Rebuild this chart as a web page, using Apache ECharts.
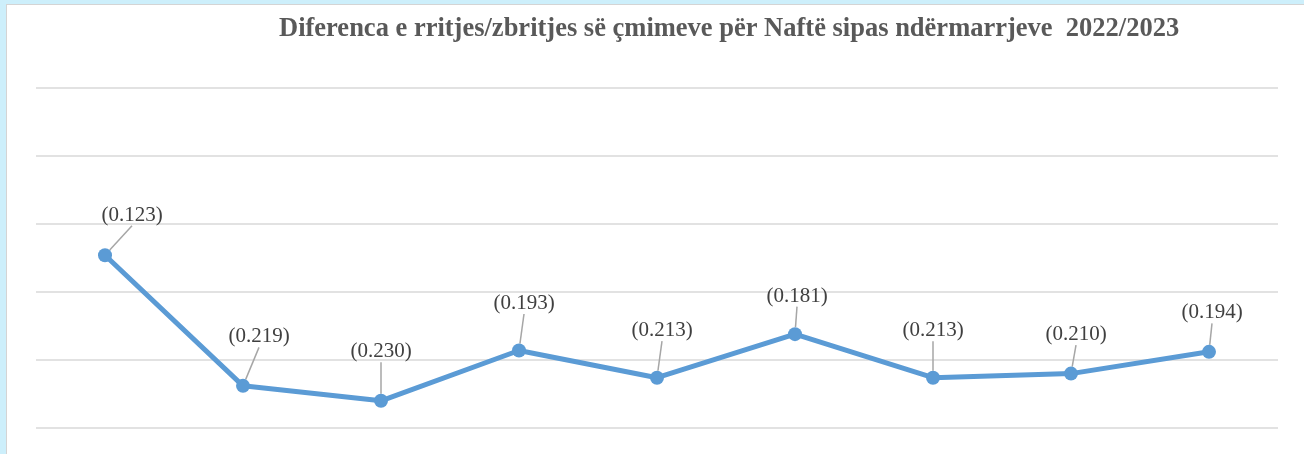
<!DOCTYPE html>
<html>
<head>
<meta charset="utf-8">
<script src="https://cdn.jsdelivr.net/npm/echarts@6/dist/echarts.min.js"></script>
<style>
  html, body {
    margin: 0;
    padding: 0;
    background: #cdeffb;
  }
  .sheet {
    position: absolute;
    left: 6px;
    top: 4px;
    right: 0;
    bottom: 0;
    background: #ffffff;
    border-left: 1px solid #d4d4d4;
    border-top: 1px solid #d4d4d4;
  }
  #myChart {
    position: absolute;
    left: 0;
    top: 0;
    width: 1304px;
    height: 454px;
  }
</style>
</head>
<body>
<div class="sheet"></div>
<div id="myChart"></div>
<script>
  // ndermarrjet (emrat nuk shfaqen ne grafik)
  const categories = ['1', '2', '3', '4', '5', '6', '7', '8', '9'];
  // diferenca e cmimeve
  const values = [-0.123, -0.219, -0.230, -0.193, -0.213, -0.181, -0.213, -0.210, -0.194];
  // zhvendosja e etiketave nga pika
  const labelDx = [27, 16, 0, 5, 5, 2, 0, 5, 3];
  const labelDy = [-40, -49, -49, -47, -47, -38, -47, -39, -39];

  let myChart = echarts.init(document.getElementById('myChart'));
  myChart.setOption({
    backgroundColor: 'transparent',
    animation: false,
    title: {
      text: 'Diferenca e rritjes/zbritjes së çmimeve për Naftë sipas ndërmarrjeve  2022/2023',
      left: 274,
      top: 11,
      textStyle: {
        fontFamily: 'Liberation Serif',
        fontWeight: 'bold',
        fontSize: 26.5,
        color: '#595959'
      }
    },
    grid: {
      left: 36,
      right: 26,
      top: 88,
      bottom: 26
    },
    xAxis: {
      type: 'category',
      data: categories,
      boundaryGap: true,
      axisLine: {show: false},
      axisTick: {show: false},
      axisLabel: {show: false}
    },
    yAxis: {
      type: 'value',
      min: -0.25,
      max: 0,
      interval: 0.05,
      axisLabel: {show: false},
      axisLine: {show: false},
      axisTick: {show: false},
      splitLine: {lineStyle: {color: '#d9d9d9', width: 1.5}}
    },
    series: [{
      type: 'line',
      data: values,
      symbol: 'circle',
      symbolSize: 14,
      itemStyle: {color: '#5b9bd5'},
      lineStyle: {color: '#5b9bd5', width: 5},
      label: {
        show: true,
        position: 'top',
        fontFamily: 'Liberation Serif',
        fontSize: 21,
        color: '#404040',
        formatter: p => '(' + Math.abs(p.value).toFixed(3) + ')'
      },
      labelLine: {
        show: true,
        lineStyle: {color: '#a6a6a6', width: 1.5}
      },
      labelLayout: function (params) {
        let i = params.dataIndex;
        return {
          x: params.rect.x + params.rect.width / 2 + labelDx[i],
          y: params.rect.y + params.rect.height / 2 + labelDy[i],
          align: 'center',
          verticalAlign: 'middle'
        };
      }
    }]
  });
</script>
</body>
</html>
